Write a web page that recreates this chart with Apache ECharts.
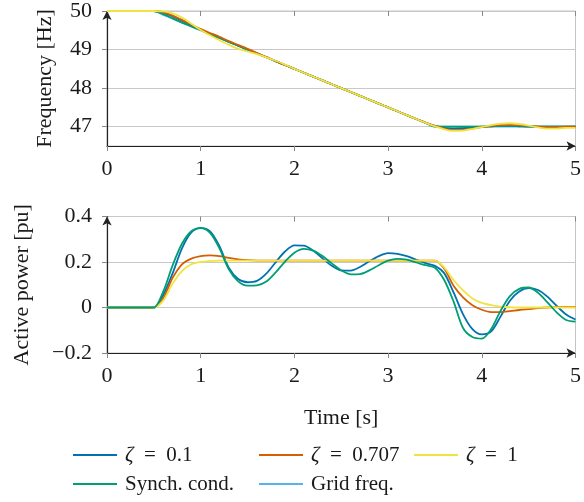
<!DOCTYPE html>
<html><head><meta charset="utf-8">
<script src="https://cdn.jsdelivr.net/npm/echarts@6/dist/echarts.min.js"></script>
<style>html,body{margin:0;padding:0;background:#fff}#c{width:584px;height:502px}</style>
</head><body><div id="c"></div>
<script>
// ---- data ----
const time = [0,0.1,0.2,0.3,0.4,0.5,0.6,0.7,0.8,0.9,1.0,1.1,1.2,1.3,1.4,1.5,1.6,1.7,1.8,1.9,2.0,2.1,2.2,2.3,2.4,2.5,2.6,2.7,2.8,2.9,3.0,3.1,3.2,3.3,3.4,3.5,3.6,3.7,3.8,3.9,4.0,4.1,4.2,4.3,4.4,4.5,4.6,4.7,4.8,4.9,5.0];

const freqGrid = [50,50,50,50,50,50, 49.9,49.8,49.7,49.6,49.5, 49.4,49.3,49.2,49.1,49.0, 48.9,48.8,48.7,48.6,48.5, 48.4,48.3,48.2,48.1,48.0, 47.9,47.8,47.7,47.6,47.5, 47.4,47.3,47.2,47.1,47.0, 47,47,47,47,47, 47,47,47,47,47, 47,47,47,47,47];
const freqSC   = [50,50,50,50,50,50, 49.92,49.81,49.7,49.6,49.5, 49.4,49.3,49.2,49.1,49.0, 48.9,48.8,48.7,48.6,48.5, 48.4,48.3,48.2,48.1,48.0, 47.9,47.8,47.7,47.6,47.5, 47.4,47.3,47.2,47.1,47.0, 47.0,47.0,47.0,47.0,47.0, 47.01,47.02,47.03,47.02,47.01, 47.0,47.0,47.0,47.0,47.0];
const freqZ01  = [50,50,50,50,50,50, 49.96,49.86,49.75,49.63,49.52, 49.41,49.31,49.2,49.1,49.0, 48.9,48.8,48.7,48.6,48.5, 48.4,48.3,48.2,48.1,48.0, 47.9,47.8,47.7,47.6,47.5, 47.4,47.3,47.2,47.1,47.02, 46.97,46.95,46.96,46.98,47.0, 47.01,47.02,47.02,47.01,47.0, 47.0,47.0,47.0,47.0,47.0];
const freqZ0707= [50,50,50,50,50,50, 49.97,49.88,49.77,49.65,49.53, 49.43,49.33,49.22,49.12,49.02, 48.91,48.81,48.7,48.6,48.5, 48.4,48.3,48.2,48.1,48.0, 47.9,47.8,47.7,47.6,47.5, 47.4,47.3,47.2,47.11,47.02, 46.95,46.91,46.92,46.95,46.99, 47.02,47.04,47.05,47.04,47.02, 47.0,46.99,46.99,47.0,47.0];
const freqZ1   = [50,50,50,50,50,50, 49.99,49.94,49.83,49.67,49.51, 49.37,49.24,49.12,49.02,48.95, 48.88,48.8,48.71,48.61,48.5, 48.4,48.3,48.2,48.1,48.0, 47.9,47.8,47.7,47.6,47.5, 47.4,47.3,47.2,47.1,47.01, 46.93,46.89,46.9,46.94,46.99, 47.04,47.08,47.09,47.07,47.03, 46.98,46.95,46.95,46.97,46.97];

const powZ01   = [0,0,0,0,0,0, 0.055,0.15,0.26,0.33,0.349, 0.335,0.27,0.175,0.125,0.111, 0.117,0.149,0.199,0.246,0.273, 0.272,0.25,0.216,0.183,0.163, 0.162,0.178,0.203,0.226,0.239, 0.236,0.226,0.21,0.195,0.183, 0.15,0.065,-0.03,-0.095,-0.118, -0.105,-0.04,0.03,0.07,0.085, 0.077,0.048,0.007,-0.031,-0.053];
const powZ0707 = [0,0,0,0,0,0, 0.04,0.13,0.19,0.215,0.226, 0.229,0.226,0.218,0.212,0.208, 0.206,0.206,0.206,0.206,0.206, 0.206,0.206,0.206,0.206,0.206, 0.206,0.206,0.206,0.206,0.206, 0.206,0.206,0.206,0.206,0.206, 0.17,0.095,0.045,0.01,-0.01, -0.02,-0.02,-0.016,-0.011,-0.007, -0.003,0,0.002,0.003,0.003];
const powZ1    = [0,0,0,0,0,0, 0.03,0.105,0.16,0.19,0.2, 0.204,0.206,0.206,0.206,0.206, 0.206,0.206,0.206,0.206,0.206, 0.206,0.206,0.206,0.206,0.206, 0.206,0.206,0.206,0.206,0.206, 0.206,0.206,0.206,0.206,0.206, 0.175,0.12,0.075,0.04,0.02, 0.01,0.004,0.001,0,0, 0,0,0,0,0];
const powSC    = [0,0,0,0,0,0, 0.07,0.185,0.28,0.335,0.35, 0.328,0.26,0.168,0.115,0.096, 0.097,0.114,0.154,0.202,0.241, 0.258,0.25,0.226,0.193,0.163, 0.146,0.147,0.163,0.186,0.206, 0.214,0.21,0.198,0.186,0.175, 0.12,0.025,-0.09,-0.13,-0.137, -0.095,-0.015,0.05,0.082,0.088, 0.065,0.023,-0.022,-0.055,-0.062];

const xTicks = [0,1,2,3,4,5];
const freqTicks = [47,48,49,50];
const powTicks = [-0.2,0,0.2,0.4];

const names = {z01:'ζ = 0.1', z0707:'ζ = 0.707', z1:'ζ = 1', sc:'Synch. cond.', grid:'Grid freq.'};
const colors = {z01:'#0072B2', z0707:'#D55E00', z1:'#F0E442', sc:'#009E73', grid:'#56B4E9'};

// ---- chart ----
const FONT = 'Liberation Serif';
const FS = 22;
const TXT = '#1a1a1a';

function pairs(vals){ return time.map((t,i)=>[t, vals[i]]); }
function line(key, vals, xi, yi){
  const c = colors[key];
  return {type:'line', name:names[key], xAxisIndex:xi, yAxisIndex:yi, data:pairs(vals),
    showSymbol:false, symbol:'none', smooth:0.3, lineStyle:{color:c, width:1.8}, itemStyle:{color:c},
    emphasis:{disabled:true}, animation:false};
}
function mainX(gi, extra){
  return Object.assign({type:'value', gridIndex:gi, min:xTicks[0], max:xTicks[xTicks.length-1], interval:1,
    axisLine:{show:true, onZero:false, lineStyle:{color:'#222', width:1.2}, symbol:['none','arrow'], symbolSize:[7,9]},
    axisTick:{show:true, length:5, lineStyle:{color:'#888'}},
    axisLabel:{fontFamily:FONT, fontSize:FS, color:TXT, margin:12},
    splitLine:{show:false}}, extra||{});
}
function innerX(gi){
  return {type:'value', gridIndex:gi, min:xTicks[0], max:xTicks[xTicks.length-1], interval:1,
    axisLine:{show:false, onZero:false}, axisTick:{show:true, inside:true, length:5, lineStyle:{color:'#888'}},
    axisLabel:{show:false}, splitLine:{show:false}};
}
const fmt = v => (v<0 ? '\u2212'+Math.abs(v) : String(v));

const legendBase = {padding:0, itemWidth:44, itemHeight:2, icon:'rect', itemGap:0,
  textStyle:{fontFamily:FONT, fontSize:21, color:TXT, padding:[0,0,0,3], lineHeight:22,
    rich:{i:{fontFamily:FONT, fontSize:21, fontStyle:'italic', color:TXT, lineHeight:22}}},
  formatter: n => n.charAt(0)==='ζ' ? '{i|ζ}' + n.slice(1).replace(' = ', '\u2002=\u2002') : n,
  selectedMode:false};
function leg(key, left, top){ return Object.assign({}, legendBase, {data:[names[key]], left, top}); }

const option = {
  backgroundColor:'#fff',
  animation:false,
  grid:[
    {left:107, right:4, top:10, height:136, show:true, borderColor:'#c4c4c4', borderWidth:1},
    {left:107, right:4, top:216.5, height:136.5, show:true, borderColor:'#c4c4c4', borderWidth:1}
  ],
  xAxis:[
    mainX(0), innerX(0),
    mainX(1, {name:'Time [s]', nameLocation:'middle', nameGap:54, nameTextStyle:{fontFamily:FONT, fontSize:FS, color:TXT}}),
    innerX(1)
  ],
  yAxis:[
    {type:'value', gridIndex:0, min:46.5, max:50,
      name:'Frequency [Hz]', nameLocation:'middle', nameGap:51, nameTextStyle:{fontFamily:FONT, fontSize:FS, color:TXT},
      axisLine:{show:true, onZero:false, lineStyle:{color:'#222', width:1.2}, symbol:['none','arrow'], symbolSize:[7,9]},
      axisTick:{show:true, length:5, lineStyle:{color:'#888'}, customValues:freqTicks},
      axisLabel:{fontFamily:FONT, fontSize:FS, color:TXT, margin:15, customValues:freqTicks},
      splitLine:{show:true, lineStyle:{color:'#c8c8c8', width:1}}},
    {type:'value', gridIndex:1, min:powTicks[0], max:powTicks[powTicks.length-1], interval:0.2,
      name:'Active power [pu]', nameLocation:'middle', nameGap:74, nameTextStyle:{fontFamily:FONT, fontSize:FS, color:TXT},
      axisLine:{show:true, onZero:false, lineStyle:{color:'#222', width:1.2}, symbol:['none','arrow'], symbolSize:[7,9]},
      axisTick:{show:true, length:5, lineStyle:{color:'#888'}},
      axisLabel:{fontFamily:FONT, fontSize:FS, color:TXT, margin:15, formatter:fmt},
      splitLine:{show:true, lineStyle:{color:'#c8c8c8', width:1}}}
  ],
  legend:[
    leg('z01', 73, 444), leg('z0707', 259, 444), leg('z1', 414, 444),
    leg('sc', 73, 473), leg('grid', 259, 473)
  ],
  series:[
    line('grid', freqGrid, 0, 0),
    line('z01', freqZ01, 0, 0),
    line('sc', freqSC, 0, 0),
    line('z0707', freqZ0707, 0, 0),
    line('z1', freqZ1, 0, 0),
    line('z01', powZ01, 2, 1),
    line('z0707', powZ0707, 2, 1),
    line('z1', powZ1, 2, 1),
    line('sc', powSC, 2, 1)
  ]
};
const chart = echarts.init(document.getElementById('c'), null, {renderer:'canvas'});
chart.setOption(option);
</script>
</body></html>
